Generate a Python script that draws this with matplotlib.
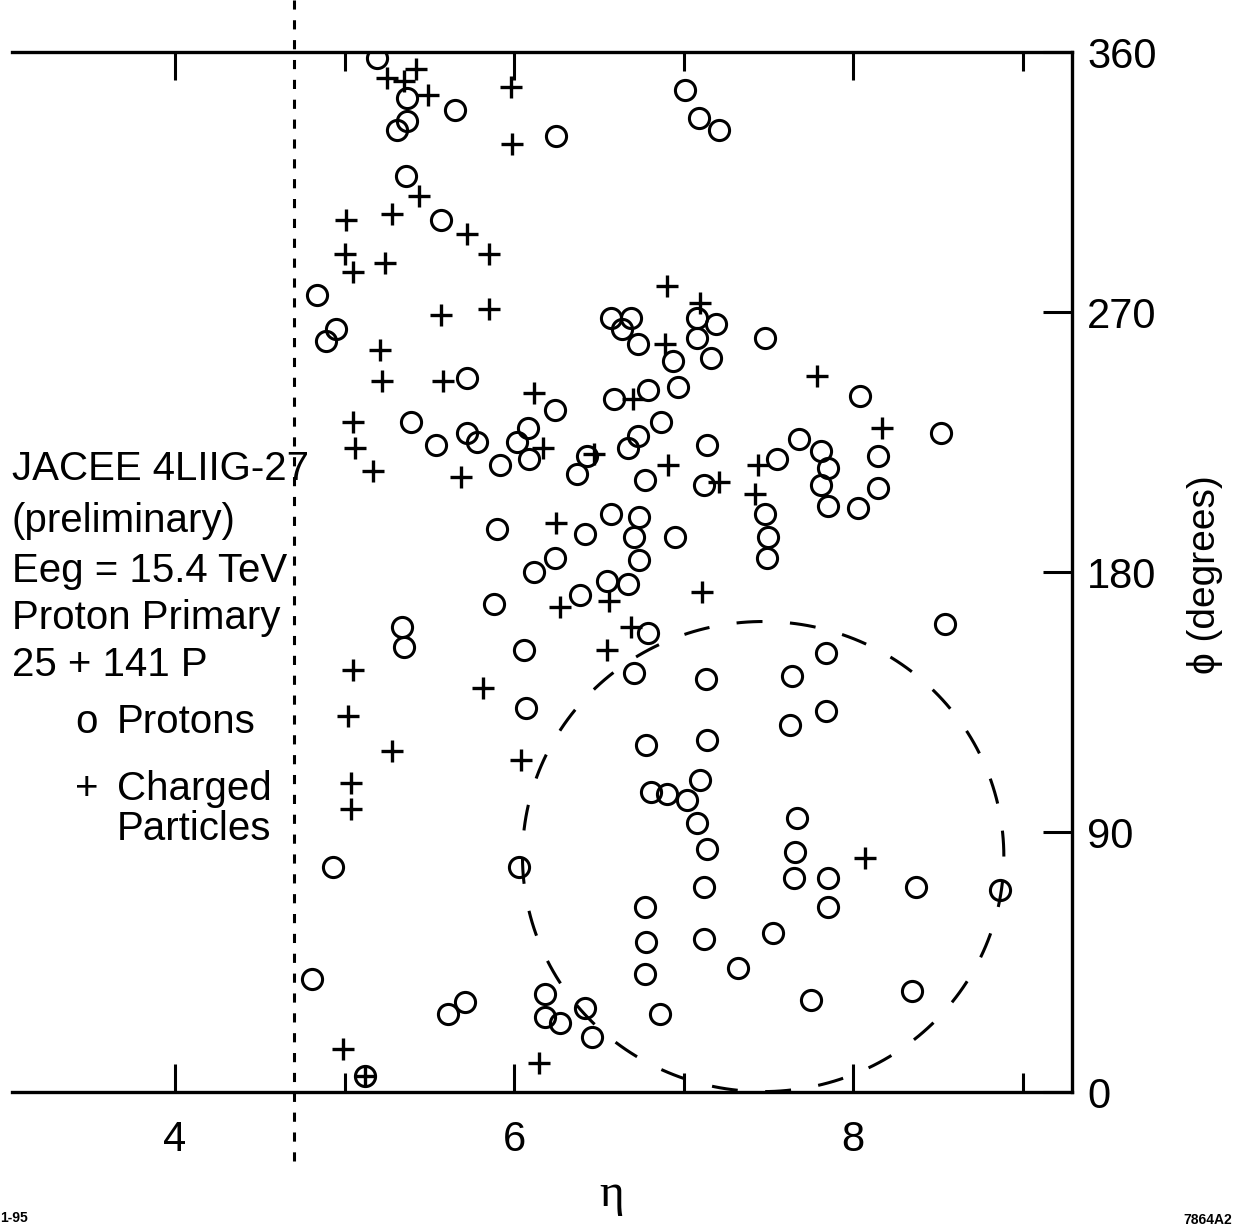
import numpy as np
import matplotlib
matplotlib.use("Agg")
from matplotlib import pyplot as plt

plt.rcParams['font.family'] = ['Liberation Sans', 'DejaVu Sans']

# protons (open circles): eta, phi in degrees
proton_eta = [5.19, 5.37, 5.65, 5.37, 5.31, 6.25, 5.36, 5.57, 7.01, 7.09, 7.21,
              4.84, 4.95, 4.89, 6.57, 6.69, 6.64, 6.73, 6.94, 7.08, 7.19, 7.08,
              7.16, 7.48, 8.04, 8.52, 6.59, 6.79, 6.97, 6.87, 6.73, 6.67, 6.43,
              6.37, 6.77, 7.14, 7.12, 7.55, 7.68, 7.81, 7.85, 7.81, 7.85, 7.48,
              7.50, 7.49, 8.15, 8.15, 8.03, 6.57, 6.74, 6.42, 6.71, 6.95, 6.74,
              6.55, 6.67, 6.39, 5.72, 5.39, 5.54, 5.72, 5.78, 5.92, 6.24, 6.08,
              6.02, 6.09, 5.90, 6.24, 6.12, 5.88, 6.79, 5.34, 5.35, 6.06, 4.93,
              6.07, 6.03, 6.71, 6.78, 6.81, 6.90, 6.77, 7.13, 7.64, 7.84, 8.54,
              7.84, 7.63, 7.14, 7.10, 7.02, 7.08, 7.14, 7.12, 7.67, 7.66, 7.65,
              7.85, 8.37, 8.87, 7.85, 6.78, 7.12, 7.53, 6.77, 7.32, 7.75, 8.35,
              6.42, 6.86, 6.46, 4.81, 5.61, 5.71, 6.18, 6.18, 6.27, 5.12]
proton_phi = [358, 344, 340, 336, 333, 331, 317, 302, 347, 337, 333,
              276, 264, 260, 268, 268, 264, 259, 253, 268, 266, 261,
              254, 261, 241, 228, 240, 243, 244, 232, 227, 223, 220,
              214, 212, 224, 210, 219, 226, 222, 216, 210, 203, 200,
              192, 185, 220, 209, 202, 200, 199, 193, 192, 192, 184,
              177, 176, 172, 247, 232, 224, 228, 225, 217, 236, 230,
              225, 219, 195, 185, 180, 169, 159, 161, 154, 153, 78,
              133, 78, 145, 120, 104, 103, 64, 143, 144, 152, 162,
              132, 127, 122, 108, 101, 93, 84, 71, 95, 83, 74,
              74, 71, 70, 64, 52, 53, 55, 41, 43, 32, 35,
              29, 27, 19, 39, 27, 31, 34, 26, 24, 5.5]

# charged particles (plus signs)
charged_eta = [5.42, 5.25, 5.35, 5.49, 5.98, 5.99, 5.44, 5.01, 5.28, 5.72, 5.85,
               5.00, 5.05, 5.24, 5.57, 5.85, 5.21, 6.90, 7.10, 6.89, 7.79, 8.17,
               6.70, 6.47, 6.91, 7.21, 7.44, 7.42, 7.11, 6.56, 6.27, 5.22, 5.58,
               5.05, 5.06, 5.17, 5.69, 6.12, 6.17, 6.25, 6.69, 6.55, 5.05, 5.02,
               5.28, 5.04, 5.04, 5.82, 6.04, 8.07, 4.99, 6.15, 5.12]
charged_phi = [354, 351, 350, 345, 348, 328, 310, 302, 304, 297, 290,
               290, 284, 287, 269, 271, 257, 279, 273, 259, 248, 230,
               240, 221, 217, 211, 217, 207, 173, 170, 168, 246, 246,
               232, 223, 215, 213, 242, 223, 197, 161, 153, 146, 130,
               118, 107, 98, 140, 115, 81, 15, 10, 5.5]

cut_eta = 4.7
jet_eta, jet_phi, jet_r = 7.47, 81.5, 1.42   # radius in eta / radians

xticks = [4, 6, 8]
xticks_minor = [5, 7, 9]
yticks = [0, 90, 180, 270, 360]

info_lines = ["JACEE 4LIIG-27", "(preliminary)", "Eeg = 15.4 TeV",
              "Proton Primary", "25 + 141 P"]
info_y = [469, 521, 571, 618, 665]

W, H = 1235, 1230
fig = plt.figure(figsize=(W / 100, H / 100), dpi=100)
ax = fig.add_axes([12 / W, 1 - 1092 / H, (1072 - 12) / W, (1092 - 52) / H])
ax.set_xlim(4 + (12 - 175) / 169.5, 4 + (1072 - 175) / 169.5)
ax.set_ylim(0, 360)

# markers
ax.plot(proton_eta, proton_phi, 'o', mfc='none', mec='black', ms=14.5, mew=2.2)
ax.plot(charged_eta, charged_phi, '+', color='black', ms=16, mew=2.4)

# dashed circle of radius 1.42 in (eta, phi[rad])
t = np.linspace(0, 2 * np.pi, 500)
ax.plot(jet_eta + jet_r * np.cos(t), jet_phi + np.degrees(jet_r) * np.sin(t),
        color='black', lw=2.2, dashes=(8.5, 9))

# dotted cut line, running past the frame
ax.plot([cut_eta, cut_eta], [-24, 378], color='black', lw=2.2,
        dashes=(3, 3.5), clip_on=False)

for s in ['top', 'bottom', 'right']:
    ax.spines[s].set_linewidth(2.4)
ax.spines['left'].set_visible(False)

ax.set_xticks(xticks)
ax.set_xticks(xticks_minor, minor=True)
ax.tick_params(axis='x', which='major', direction='in', length=20, width=2.2,
               top=True, bottom=True, labelsize=30, pad=20)
ax.tick_params(axis='x', which='minor', direction='in', length=14, width=2.2,
               top=True, bottom=True, labelbottom=False)
ax.set_yticks(yticks)
ax.tick_params(axis='y', direction='in', length=21, width=2.2, left=False,
               right=True, labelleft=False, labelright=True, labelsize=30, pad=11)

# texts
for line, y in zip(info_lines, info_y):
    fig.text(12 / W, 1 - y / H, line, fontsize=29, va='center', ha='left')
fig.text(75 / W, 1 - 722 / H, "o", fontsize=29, va='center', ha='left')
fig.text(117 / W, 1 - 722 / H, "Protons", fontsize=29, va='center', ha='left')
fig.text(75 / W, 1 - 789 / H, "+", fontsize=29, va='center', ha='left')
fig.text(117 / W, 1 - 789 / H, "Charged", fontsize=29, va='center', ha='left')
fig.text(117 / W, 1 - 829 / H, "Particles", fontsize=29, va='center', ha='left')

fig.text(1205 / W, 1 - 575 / H, "ϕ (degrees)", fontsize=28, rotation=90,
         va='center', ha='center')
fig.text(612 / W, 1 - 1195 / H, "η", fontsize=34, va='center', ha='center',
         family=['Liberation Serif', 'DejaVu Serif'])
fig.text(0, 1 - 1218 / H, "1-95", fontsize=10, fontweight='bold',
         va='center', ha='left')
fig.text(1232 / W, 1 - 1220 / H, "7864A2", fontsize=10, fontweight='bold',
         va='center', ha='right')

fig.savefig("out.png", dpi=100)
